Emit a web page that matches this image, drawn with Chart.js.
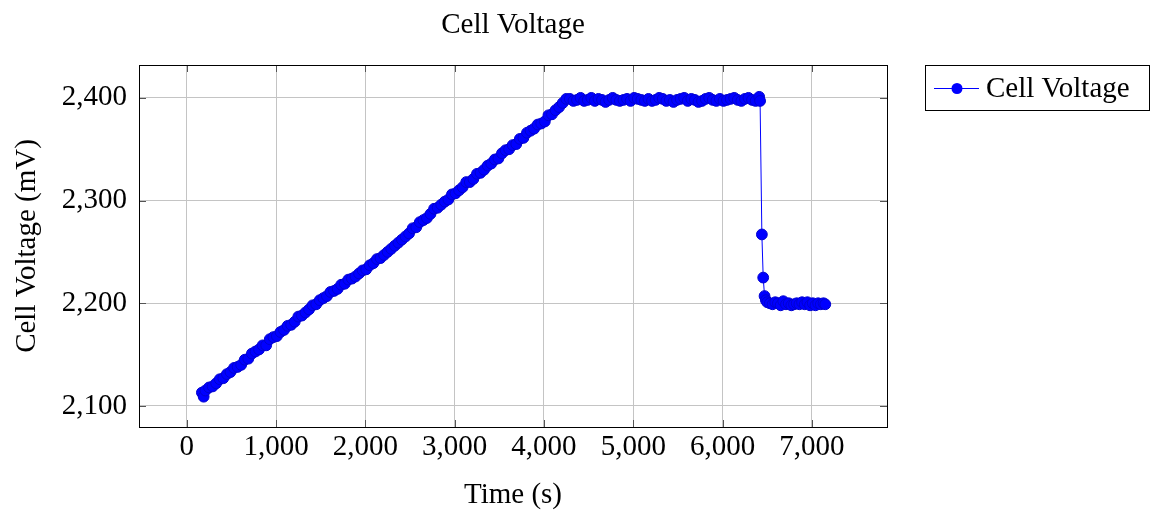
<!DOCTYPE html>
<html>
<head>
<meta charset="utf-8">
<script src="https://cdn.jsdelivr.net/npm/chart.js@4"></script>
<style>
  html, body { margin: 0; padding: 0; background: #fff; }
  #wrap { width: 1153px; height: 515px; }
</style>
</head>
<body>
<div id="wrap"><canvas id="chart" width="1153" height="515"></canvas></div>
<script>
// values
const timeS = [
  170, 190, 210, 250, 290, 330, 370, 410, 450, 490, 530, 570, 610, 650, 690, 730, 770, 810, 850, 890,
  930, 970, 1010, 1050, 1090, 1130, 1170, 1210, 1250, 1290, 1330, 1370, 1410, 1450, 1490, 1530, 1570, 1610, 1650, 1690,
  1730, 1770, 1810, 1850, 1890, 1930, 1970, 2010, 2050, 2090, 2130, 2170, 2210, 2250, 2290, 2330, 2370, 2410, 2450, 2490,
  2530, 2570, 2610, 2650, 2690, 2730, 2770, 2810, 2850, 2890, 2930, 2970, 3010, 3050, 3090, 3130, 3170, 3210, 3250, 3290,
  3330, 3370, 3410, 3450, 3490, 3530, 3570, 3610, 3650, 3690, 3730, 3770, 3810, 3850, 3890, 3930, 3970, 4010, 4050, 4090,
  4130, 4170, 4210, 4250,
  4290, 4330, 4370, 4410, 4450, 4490, 4530, 4570, 4610, 4650, 4690, 4730, 4770, 4810, 4850, 4890, 4930, 4970, 5010, 5050,
  5090, 5130, 5170, 5210, 5250, 5290, 5330, 5370, 5410, 5450, 5490, 5530, 5570, 5610, 5650, 5690, 5730, 5770, 5810, 5850,
  5890, 5930, 5970, 6010, 6050, 6090, 6130, 6170, 6210, 6250, 6290, 6330, 6370, 6410, 6420,
  6440, 6455, 6470, 6485, 6500, 6530, 6560, 6590, 6620, 6650, 6680, 6710, 6740, 6770, 6800, 6830, 6860, 6890, 6920, 6950,
  6980, 7010, 7040, 7070, 7100, 7130, 7150
];
const voltageMv = [
  2113, 2109, 2115, 2118, 2119, 2122, 2126, 2127, 2131, 2133, 2137, 2138, 2140, 2145, 2146, 2151, 2153, 2155, 2159, 2159,
  2165, 2167, 2168, 2172, 2174, 2178, 2179, 2182, 2187, 2188, 2191, 2194, 2198, 2199, 2203, 2205, 2207, 2211, 2212, 2214,
  2218, 2219, 2223, 2224, 2226, 2229, 2232, 2233, 2237, 2239, 2243, 2244, 2247, 2250, 2253, 2256, 2259, 2262, 2265, 2268,
  2273, 2274, 2279, 2281, 2283, 2287, 2292, 2293, 2296, 2299, 2301, 2306, 2307, 2310, 2313, 2318, 2318, 2321, 2326, 2327,
  2330, 2334, 2336, 2340, 2341, 2346, 2349, 2350, 2354, 2355, 2360, 2361, 2366, 2368, 2370, 2374, 2375, 2377, 2383, 2384,
  2388, 2391, 2395, 2399,
  2399, 2397, 2398, 2400, 2397, 2398, 2400, 2397, 2399, 2398, 2396, 2398, 2400, 2398, 2397, 2398, 2399, 2397, 2400, 2399,
  2398, 2397, 2399, 2397, 2398, 2400, 2399, 2397, 2398, 2396, 2398, 2399, 2400, 2397, 2399, 2398, 2396, 2397, 2399, 2400,
  2398, 2397, 2399, 2397, 2398, 2399, 2400, 2398, 2397, 2399, 2400, 2398, 2397, 2401, 2397,
  2267, 2225, 2207, 2203, 2201, 2200, 2199, 2201, 2200, 2198, 2202, 2199, 2200, 2198, 2199, 2200, 2199, 2201, 2199, 2201,
  2198, 2200, 2198, 2200, 2199, 2200, 2199
];
const xTicks = [0, 1000, 2000, 3000, 4000, 5000, 6000, 7000];
const yTicks = [2100, 2200, 2300, 2400];
const seriesName = 'Cell Voltage';
const chartTitle = 'Cell Voltage';
const xTitle = 'Time (s)';
const yTitle = 'Cell Voltage (mV)';

const FONT = '"Liberation Serif", "Times New Roman", serif';
const BLUE = '#0000ff';

const points = timeS.map((t, i) => ({ x: t, y: voltageMv[i] }));

// frame, inner tick marks, titles and legend, pgfplots style
const decorations = {
  id: 'decorations',
  afterDatasetsDraw(chart) {
    const { ctx, chartArea: a, scales } = chart;
    ctx.save();
    ctx.strokeStyle = '#555';
    ctx.lineWidth = 1;
    const tl = 7;
    xTicks.forEach(v => {
      const px = Math.round(scales.x.getPixelForValue(v)) + 0.5;
      ctx.beginPath();
      ctx.moveTo(px, a.bottom); ctx.lineTo(px, a.bottom - tl);
      ctx.moveTo(px, a.top); ctx.lineTo(px, a.top + tl);
      ctx.stroke();
    });
    yTicks.forEach(v => {
      const py = Math.round(scales.y.getPixelForValue(v)) + 0.5;
      ctx.beginPath();
      ctx.moveTo(a.left, py); ctx.lineTo(a.left + tl, py);
      ctx.moveTo(a.right, py); ctx.lineTo(a.right - tl, py);
      ctx.stroke();
    });
    ctx.strokeStyle = '#000';
    ctx.strokeRect(Math.round(a.left) + 0.5, Math.round(a.top) + 0.5,
      Math.round(a.right - a.left), Math.round(a.bottom - a.top));

    ctx.fillStyle = '#000';
    ctx.font = '29px ' + FONT;
    ctx.textAlign = 'center';
    ctx.textBaseline = 'alphabetic';
    ctx.fillText(chartTitle, (a.left + a.right) / 2, 33);
    ctx.fillText(xTitle, (a.left + a.right) / 2, 503);

    ctx.save();
    ctx.translate(35, (a.top + a.bottom) / 2);
    ctx.rotate(-Math.PI / 2);
    ctx.fillText(yTitle, 0, 0);
    ctx.restore();

    // legend
    ctx.strokeStyle = '#000';
    ctx.strokeRect(925.5, 65.5, 224, 45);
    ctx.strokeStyle = BLUE;
    ctx.beginPath();
    ctx.moveTo(934, 88.5); ctx.lineTo(979, 88.5);
    ctx.stroke();
    ctx.fillStyle = BLUE;
    ctx.beginPath();
    ctx.arc(957, 88.5, 5.5, 0, Math.PI * 2);
    ctx.fill();
    ctx.fillStyle = '#000';
    ctx.textAlign = 'left';
    ctx.fillText(seriesName, 986, 97);
    ctx.restore();
  }
};

new Chart(document.getElementById('chart'), {
  type: 'scatter',
  data: {
    datasets: [{
      label: seriesName,
      data: points,
      showLine: true,
      borderColor: BLUE,
      borderWidth: 1,
      backgroundColor: BLUE,
      pointBackgroundColor: BLUE,
      pointBorderColor: '#0000d0',
      pointBorderWidth: 1,
      pointRadius: 5.4,
      tension: 0
    }]
  },
  options: {
    responsive: false,
    animation: false,
    layout: { padding: { top: 65, right: 266, bottom: 0, left: 0 } },
    plugins: {
      legend: { display: false },
      title: { display: false },
      tooltip: { enabled: false }
    },
    scales: {
      x: {
        type: 'linear',
        min: -534,
        max: 7841,
        afterBuildTicks: s => { s.ticks = xTicks.map(v => ({ value: v })); },
        afterFit: s => { s.height = 88; },
        grid: { color: '#c4c4c4', drawTicks: false },
        border: { display: false },
        ticks: {
          padding: 3,
          color: '#000',
          font: { family: FONT, size: 29 },
          maxRotation: 0,
          callback: v => v.toLocaleString('en-US')
        }
      },
      y: {
        type: 'linear',
        min: 2079.5,
        max: 2432,
        afterBuildTicks: s => { s.ticks = yTicks.map(v => ({ value: v })); },
        afterFit: s => { s.width = 139; },
        grid: { color: '#c4c4c4', drawTicks: false },
        border: { display: false },
        ticks: {
          padding: 12,
          color: '#000',
          font: { family: FONT, size: 29 },
          callback: v => v.toLocaleString('en-US')
        }
      }
    }
  },
  plugins: [decorations]
});
</script>
</body>
</html>
